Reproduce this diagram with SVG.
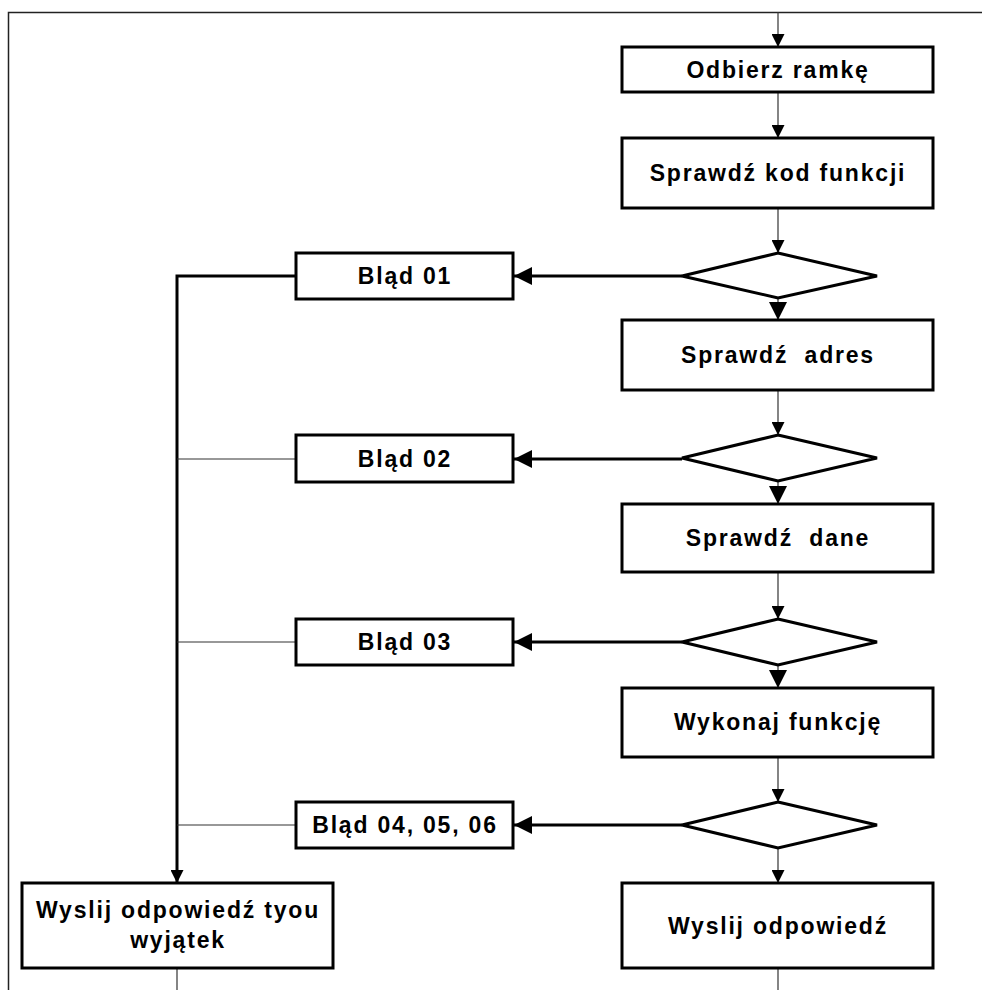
<svg xmlns="http://www.w3.org/2000/svg" width="982" height="990" viewBox="0 0 982 990">
<defs>
<marker id="ah" viewBox="0 0 10 10" refX="10" refY="5" markerWidth="14" markerHeight="13" markerUnits="userSpaceOnUse" orient="auto"><path d="M0,0 L10,5 L0,10 Z" fill="#000"/></marker>
<marker id="ahb" viewBox="0 0 10 10" refX="10" refY="5" markerWidth="18" markerHeight="18" markerUnits="userSpaceOnUse" orient="auto"><path d="M0,0 L10,5 L0,10 Z" fill="#000"/></marker>
</defs>
<style>
.box{fill:#fff;stroke:#000;stroke-width:3}
.dia{fill:#fff;stroke:#000;stroke-width:3}
.t{font-family:"Liberation Sans",Arial,sans-serif;font-weight:bold;font-size:23px;letter-spacing:1.8px;text-anchor:middle;fill:#000}
.thin{stroke:#333;stroke-width:1.2;fill:none}
.thick{stroke:#000;stroke-width:3;fill:none}
</style>
<g id="frame"><path d="M8.5,990 V12.5 H982" fill="none" stroke="#222" stroke-width="1.5"/></g>
<g id="connectors">
<line class="thin" x1="778" y1="12" x2="778" y2="47" marker-end="url(#ah)"/>
<line class="thin" x1="778" y1="92" x2="778" y2="138" marker-end="url(#ah)"/>
<line class="thin" x1="778" y1="208" x2="778" y2="253" marker-end="url(#ah)"/>
<line class="thin" x1="778" y1="298" x2="778" y2="320" marker-end="url(#ahb)"/>
<line class="thin" x1="778" y1="390" x2="778" y2="435" marker-end="url(#ah)"/>
<line class="thin" x1="778" y1="481" x2="778" y2="504" marker-end="url(#ahb)"/>
<line class="thin" x1="778" y1="572" x2="778" y2="619" marker-end="url(#ah)"/>
<line class="thin" x1="778" y1="665" x2="778" y2="688" marker-end="url(#ahb)"/>
<line class="thin" x1="778" y1="757" x2="778" y2="802" marker-end="url(#ah)"/>
<line class="thin" x1="778" y1="848" x2="778" y2="883" marker-end="url(#ah)"/>
<line class="thin" x1="778" y1="968" x2="778" y2="990"/>
<line class="thick" x1="682" y1="276" x2="514" y2="276" marker-end="url(#ahb)"/>
<line class="thick" x1="682" y1="459" x2="514" y2="459" marker-end="url(#ahb)"/>
<line class="thick" x1="682" y1="642" x2="514" y2="642" marker-end="url(#ahb)"/>
<line class="thick" x1="682" y1="825" x2="514" y2="825" marker-end="url(#ahb)"/>
<path class="thick" d="M296,276 H177 V883" marker-end="url(#ah)"/>
<line class="thin" x1="177" y1="459" x2="296" y2="459"/>
<line class="thin" x1="177" y1="642" x2="296" y2="642"/>
<line class="thin" x1="177" y1="825" x2="296" y2="825"/>
<line class="thin" x1="177" y1="968" x2="177" y2="990"/>
</g>
<g id="n_odbierz"><rect class="box" x="622" y="47" width="311" height="45"/><text class="t" x="778" y="78">Odbierz ramkę</text></g>
<g id="n_kod"><rect class="box" x="622" y="138" width="311" height="70"/><text class="t" x="778" y="181">Sprawdź kod funkcji</text></g>
<g id="d1"><polygon class="dia" points="778,253 877,276 778,298 682,276"/></g>
<g id="n_adres"><rect class="box" x="622" y="320" width="311" height="70"/><text class="t" x="778" y="363" xml:space="preserve">Sprawdź  adres</text></g>
<g id="d2"><polygon class="dia" points="778,435 877,458 778,481 682,458"/></g>
<g id="n_dane"><rect class="box" x="622" y="504" width="311" height="68"/><text class="t" x="778" y="546" xml:space="preserve">Sprawdź  dane</text></g>
<g id="d3"><polygon class="dia" points="778,619 877,642 778,665 682,642"/></g>
<g id="n_wykonaj"><rect class="box" x="622" y="688" width="311" height="69"/><text class="t" x="778" y="730">Wykonaj funkcję</text></g>
<g id="d4"><polygon class="dia" points="778,802 877,825 778,848 682,825"/></g>
<g id="n_wyslij"><rect class="box" x="622" y="883" width="311" height="85"/><text class="t" x="778" y="934">Wyslij odpowiedź</text></g>
<g id="e1"><rect class="box" x="296" y="253" width="217" height="46"/><text class="t" x="405" y="284">Bląd 01</text></g>
<g id="e2"><rect class="box" x="296" y="435" width="217" height="47"/><text class="t" x="405" y="467">Bląd 02</text></g>
<g id="e3"><rect class="box" x="296" y="619" width="217" height="46"/><text class="t" x="405" y="650">Bląd 03</text></g>
<g id="e4"><rect class="box" x="296" y="802" width="217" height="46"/><text class="t" x="405" y="833">Bląd 04, 05, 06</text></g>
<g id="n_wyjatek"><rect class="box" x="22" y="883" width="311" height="85"/><text class="t" x="178" y="918">Wyslij odpowiedź tyou</text><text class="t" x="178" y="948">wyjątek</text></g>
</svg>
